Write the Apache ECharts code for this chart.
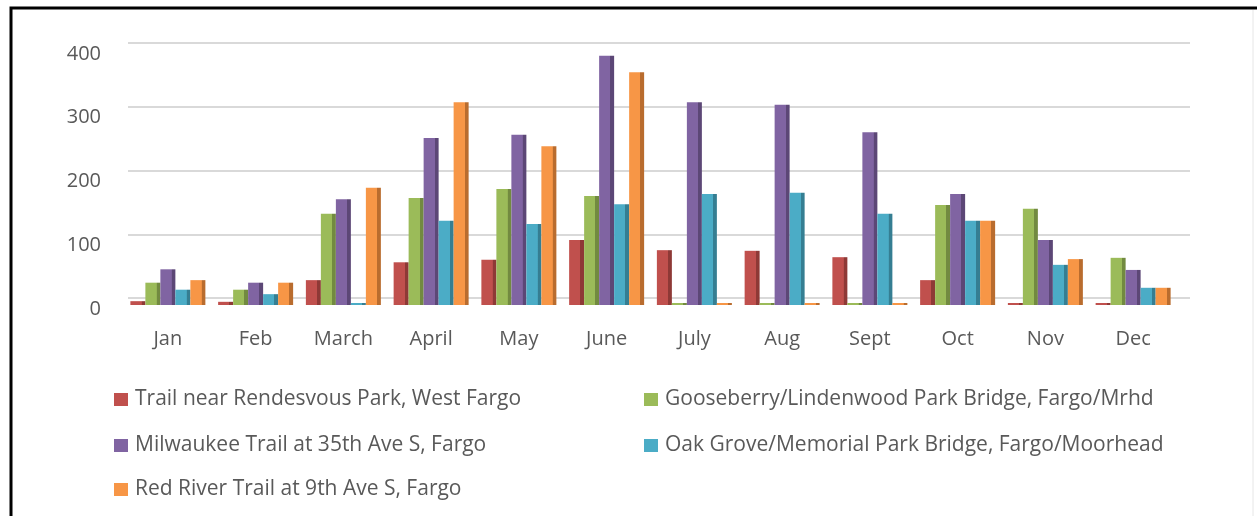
<!DOCTYPE html>
<html>
<head>
<meta charset="utf-8">
<script src="https://cdn.jsdelivr.net/npm/echarts@6/dist/echarts.min.js"></script>
<style>
  html, body { margin: 0; padding: 0; background: #fff; }
  #chart { width: 1257px; height: 516px; }
</style>
</head>
<body>
<div id="chart"></div>
<script>
// monthly counts
const months = ['Jan', 'Feb', 'March', 'April', 'May', 'June', 'July', 'Aug', 'Sept', 'Oct', 'Nov', 'Dec']
const yTicks = [0, 100, 200, 300, 400]

const rendesvous = [6, 5, 39, 67, 71, 102, 86, 85, 75, 39, 1, 1]
const gooseberry = [35, 24, 143, 168, 182, 171, 0, 0, 0, 157, 151, 74]
const milwaukee = [56, 35, 166, 262, 267, 391, 318, 314, 271, 174, 102, 55]
const oakGrove = [24, 17, 0, 132, 127, 158, 174, 176, 143, 132, 63, 27]
const redRiver = [39, 35, 184, 318, 249, 365, 0, 0, 0, 132, 72, 27]

const seriesNames = [
  'Trail near Rendesvous Park, West Fargo',
  'Gooseberry/Lindenwood Park Bridge, Fargo/Mrhd',
  'Milwaukee Trail at 35th Ave S, Fargo',
  'Oak Grove/Memorial Park Bridge, Fargo/Moorhead',
  'Red River Trail at 9th Ave S, Fargo'
]
const seriesData = [rendesvous, gooseberry, milwaukee, oakGrove, redRiver]

// office palette, front face / side face
const colors = ['#C0504D', '#9BBB59', '#8064A2', '#4BACC6', '#F79646']
const sideColors = ['#8E3936', '#728A40', '#5C4776', '#357E92', '#B96C2E']

const chart = echarts.init(document.getElementById('chart'))

function makeSeries() {
  const series = []
  for (var i = 0; i < seriesData.length; i++) {
    series.push({
      name: seriesNames[i],
      type: 'bar',
      xAxisIndex: 0,
      yAxisIndex: 0,
      data: seriesData[i],
      barWidth: 15,
      barGap: '0%',
      barMinHeight: 2,
      itemStyle: {
        color: new echarts.graphic.LinearGradient(0, 0, 1, 0, [
          { offset: 0, color: colors[i] },
          { offset: 0.74, color: colors[i] },
          { offset: 0.75, color: sideColors[i] },
          { offset: 1, color: sideColors[i] }
        ])
      }
    })
  }
  return series
}

// one legend block per entry so the two-column layout lines up
const legendPos = [
  { left: 109, top: 384 },
  { left: 639, top: 384 },
  { left: 109, top: 430 },
  { left: 639, top: 430 },
  { left: 109, top: 474 }
]
const legends = legendPos.map(function(p, i) {
  return {
    data: [{ name: seriesNames[i], itemStyle: { color: colors[i] } }],
    left: p.left,
    top: p.top,
    icon: 'rect',
    itemWidth: 14,
    itemHeight: 13,
    itemGap: 0,
    textStyle: { fontFamily: 'Open Sans', fontSize: 21, color: '#595959', padding: [0, 0, 0, 2] },
    selectedMode: false
  }
})

chart.setOption({
  animation: false,
  color: colors,
  legend: legends,
  grid: [
    // bars sit in front of the back wall
    { left: 124, right: 80, top: 50, bottom: 211 },
    // back wall gridlines, a bit higher and wider (3d depth)
    { left: 128, right: 67, top: 43, bottom: 218 }
  ],
  xAxis: [{
    type: 'category',
    gridIndex: 0,
    data: months,
    axisLine: { show: false },
    axisTick: { show: false },
    axisLabel: { margin: 24, fontFamily: 'Open Sans', fontSize: 20, color: '#595959' }
  }, {
    type: 'category',
    gridIndex: 1,
    data: months,
    show: false
  }],
  yAxis: [{
    type: 'value',
    gridIndex: 0,
    min: yTicks[0],
    max: yTicks[yTicks.length - 1],
    interval: 100,
    axisLine: { show: false },
    axisTick: { show: false },
    axisLabel: { margin: 23, verticalAlign: 'top', lineHeight: 8, fontFamily: 'Open Sans', fontSize: 20, color: '#595959' },
    splitLine: { show: false }
  }, {
    type: 'value',
    gridIndex: 1,
    min: yTicks[0],
    max: yTicks[yTicks.length - 1],
    interval: 100,
    axisLine: { show: false },
    axisTick: { show: false },
    axisLabel: { show: false },
    splitLine: { lineStyle: { color: '#D9D9D9', width: 2 } }
  }],
  graphic: [
    { type: 'rect', shape: { x: 11, y: 8, width: 1260, height: 520 }, style: { fill: 'none', stroke: '#000', lineWidth: 3 }, silent: true },
    { type: 'line', shape: { x1: 1253, y1: 10, x2: 1253, y2: 516 }, style: { stroke: '#E6E6E6', lineWidth: 1 }, silent: true }
  ],
  series: makeSeries()
})
</script>
</body>
</html>
